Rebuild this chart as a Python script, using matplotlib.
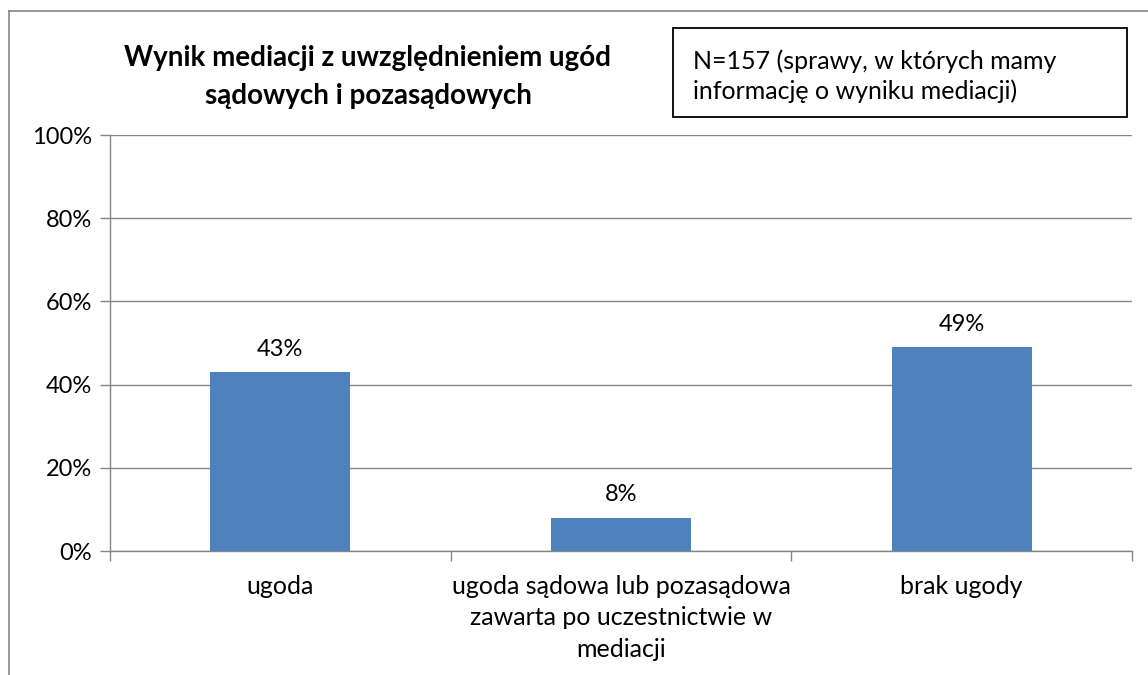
import matplotlib
matplotlib.use('Agg')
import matplotlib.pyplot as plt
from matplotlib.patches import Rectangle

# --- Dane ---
kategorie = ['ugoda',
             'ugoda sądowa lub pozasądowa\nzawarta po uczestnictwie w\nmediacji',
             'brak ugody']
wartosci = [43, 8, 49]
etykiety = ['43%', '8%', '49%']
ticki_y = [0, 20, 40, 60, 80, 100]
tytul = 'Wynik mediacji z uwzględnieniem ugód\nsądowych i pozasądowych'
opis_n = 'N=157 (sprawy, w których mamy\ninformację o wyniku mediacji)'

plt.rcParams['font.family'] = ['Lato', 'DejaVu Sans']
SZARY = '#868686'

fig = plt.figure(figsize=(11.48, 6.75), dpi=100)
W, H = 1148, 675
ax = fig.add_axes([110 / W, 1 - 551 / H, 1022 / W, 416 / H])

x = list(range(len(kategorie)))
ax.bar(x, wartosci, width=0.41, color='#4F81BD', zorder=3)
for xi, v, t in zip(x, wartosci, etykiety):
    ax.text(xi, v + 3, t, ha='center', va='bottom', fontsize=17)

ax.set_xlim(-0.5, 2.5)
ax.set_ylim(0, 100)
ax.set_yticks(ticki_y)
ax.set_yticklabels([f'{v}%' for v in ticki_y], fontsize=17)
ax.yaxis.grid(True, color=SZARY, linewidth=1)
ax.set_axisbelow(True)

# ticki osi x na granicach kategorii
ax.set_xticks([-0.5, 0.5, 1.5, 2.5])
ax.set_xticklabels([])
ax.set_xticks(x, minor=True)
ax.set_xticklabels(kategorie, minor=True, fontsize=18, linespacing=1.45, va='top')
ax.tick_params(axis='x', which='minor', length=0, pad=17)
ax.tick_params(axis='x', which='major', length=7, color=SZARY, width=1)
ax.tick_params(axis='y', length=7, color=SZARY, width=1, pad=6)

for s in ['top', 'right']:
    ax.spines[s].set_visible(False)
for s in ['left', 'bottom']:
    ax.spines[s].set_color(SZARY)
    ax.spines[s].set_linewidth(1)

# tytuł
fig.text(368 / W, 1 - 77 / H, tytul, ha='center', va='center',
         fontsize=20, fontweight='bold', linespacing=1.55)

# ramka z opisem N
fig.patches.append(Rectangle((673 / W, 1 - 117 / H), 454 / W, 89 / H,
                             transform=fig.transFigure, fill=False,
                             edgecolor='black', linewidth=1.3))
fig.text(693 / W, 1 - 76 / H, opis_n, ha='left', va='center',
         fontsize=18, linespacing=1.35)

# ramka całego wykresu (widoczna lewa i górna krawędź)
fig.add_artist(plt.Line2D([8.5 / W, 8.5 / W], [0, 1 - 11 / H],
                          transform=fig.transFigure, color=SZARY, linewidth=1.2))
fig.add_artist(plt.Line2D([8.5 / W, 1], [1 - 11 / H, 1 - 11 / H],
                          transform=fig.transFigure, color=SZARY, linewidth=1.2))

plt.savefig('out.png', dpi=100)
